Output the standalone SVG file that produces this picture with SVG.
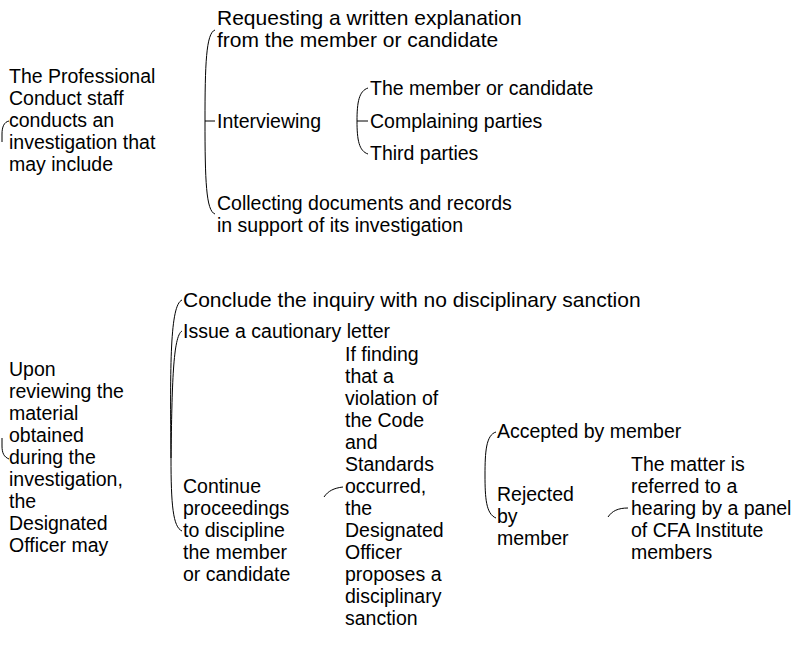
<svg xmlns="http://www.w3.org/2000/svg" width="803" height="645" viewBox="0 0 803 645">
<style>
text{font-family:"Liberation Sans",Arial,sans-serif;font-size:19.5px;fill:#000}
text.big{font-size:21px}
.c{fill:none;stroke:#000;stroke-width:1}
</style>
<rect width="803" height="645" fill="#fff"/>
<g id="connectors">
<path class="c" d="M9,121 C4,122 2,127 2,134 L2,142"/>
<path class="c" d="M205,121 C205,65 206,33 215,30"/>
<path class="c" d="M205,121 L215,121"/>
<path class="c" d="M205,121 C205,180 206,211 215,214"/>
<path class="c" d="M357,121 C357,102 359,91 368,88"/>
<path class="c" d="M357,121 L368,121"/>
<path class="c" d="M357,121 C357,140 359,151 368,154"/>
<path class="c" d="M2,438 L2,446 C2,453 4,457 9,459"/>
<path class="c" d="M171,458 C170,365 170,305 182,300"/>
<path class="c" d="M171,458 C172,385 173,336 182,331"/>
<path class="c" d="M171,458 C171,505 173,527 182,531"/>
<path class="c" d="M324,497 C328,491 334,488 343,487"/>
<path class="c" d="M485,475 C485,452 486,435 496,432"/>
<path class="c" d="M485,475 C485,498 486,514 496,518"/>
<path class="c" d="M608,517 C612,511 618,508 628,508"/>
</g>
<g id="n-staff"><text x="9" y="83">The Professional</text><text x="9" y="105">Conduct staff</text><text x="9" y="127">conducts an</text><text x="9" y="149">investigation that</text><text x="9" y="171">may include</text></g>
<g id="n-request"><text class="big" x="217" y="25">Requesting a written explanation</text><text class="big" x="217" y="47">from the member or candidate</text></g>
<g id="n-interview"><text x="217" y="128">Interviewing</text></g>
<g id="n-collect"><text x="217" y="210">Collecting documents and records</text><text x="217" y="232">in support of its investigation</text></g>
<g id="n-member"><text x="370" y="95">The member or candidate</text></g>
<g id="n-complain"><text x="370" y="128">Complaining parties</text></g>
<g id="n-third"><text x="370" y="160">Third parties</text></g>
<g id="n-officer"><text x="9" y="376">Upon</text><text x="9" y="398">reviewing the</text><text x="9" y="420">material</text><text x="9" y="442">obtained</text><text x="9" y="464">during the</text><text x="9" y="486">investigation,</text><text x="9" y="508">the</text><text x="9" y="530">Designated</text><text x="9" y="552">Officer may</text></g>
<g id="n-conclude"><text class="big" x="183" y="307">Conclude the inquiry with no disciplinary sanction</text></g>
<g id="n-letter"><text x="183" y="338">Issue a cautionary letter</text></g>
<g id="n-continue"><text x="183" y="493">Continue</text><text x="183" y="515">proceedings</text><text x="183" y="537">to discipline</text><text x="183" y="559">the member</text><text x="183" y="581">or candidate</text></g>
<g id="n-finding"><text x="345" y="361">If finding</text><text x="345" y="383">that a</text><text x="345" y="405">violation of</text><text x="345" y="427">the Code</text><text x="345" y="449">and</text><text x="345" y="471">Standards</text><text x="345" y="493">occurred,</text><text x="345" y="515">the</text><text x="345" y="537">Designated</text><text x="345" y="559">Officer</text><text x="345" y="581">proposes a</text><text x="345" y="603">disciplinary</text><text x="345" y="625">sanction</text></g>
<g id="n-accepted"><text x="497" y="438">Accepted by member</text></g>
<g id="n-rejected"><text x="497" y="501">Rejected</text><text x="497" y="523">by</text><text x="497" y="545">member</text></g>
<g id="n-hearing"><text x="631" y="471">The matter is</text><text x="631" y="493">referred to a</text><text x="631" y="515">hearing by a panel</text><text x="631" y="537">of CFA Institute</text><text x="631" y="559">members</text></g>
</svg>
